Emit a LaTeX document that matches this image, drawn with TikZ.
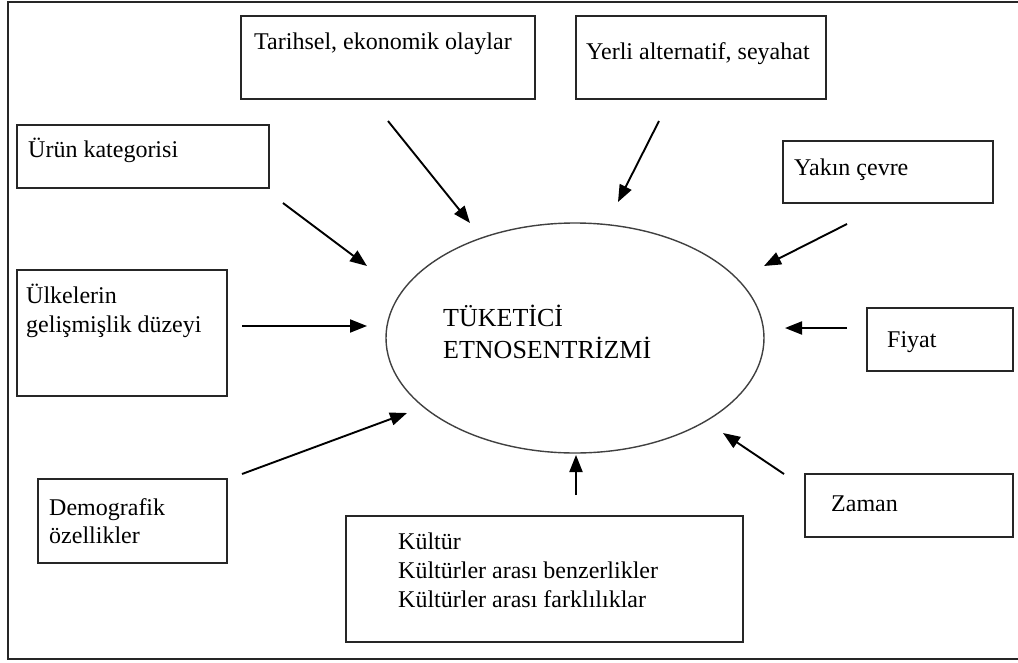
\documentclass[tikz,border=0pt]{standalone}
\usepackage{fontspec}
\setmainfont{Liberation Serif}
\usetikzlibrary{arrows.meta}
\tikzset{
  box/.style={draw=black!85, line width=2.2pt, inner sep=0pt, fill=none},
  txt/.style={anchor=base west, inner sep=0pt, font=\fontsize{24}{29}\selectfont, align=left},
  ctxt/.style={anchor=base west, inner sep=0pt, font=\fontsize{26}{32}\selectfont},
  arr/.style={line width=1.9pt, -{Triangle[length=17pt,width=13pt]}},
}
\begin{document}
\begin{tikzpicture}[x=1pt,y=-1pt]
\useasboundingbox (0,0) rectangle (1018,662);
% outer frame
\draw[line width=2.2pt, black!85] (1030,2) -- (8,2) -- (8,659) -- (1030,659);
% boxes
\node[box, minimum width=294pt, minimum height=83pt] (tar) at (388,57.5) {};
\node[box, minimum width=250pt, minimum height=83pt] (yer) at (701,57.5) {};
\node[box, minimum width=252pt, minimum height=63pt] (urun) at (143,156.5) {};
\node[box, minimum width=210pt, minimum height=126pt] (ulk) at (122,333) {};
\node[box, minimum width=189pt, minimum height=84pt] (dem) at (132.5,521) {};
\node[box, minimum width=397pt, minimum height=126pt] (kul) at (544.5,579) {};
\node[box, minimum width=210pt, minimum height=62pt] (yak) at (888,172) {};
\node[box, minimum width=146pt, minimum height=63pt] (fiy) at (940,339.5) {};
\node[box, minimum width=208pt, minimum height=63pt] (zam) at (909,505.5) {};
% ellipse
\draw[line width=1.4pt, black!75] (575,338) ellipse [x radius=189, y radius=115];
\coordinate (ell) at (575,338);
% texts
\node[txt] (tar-t) at (254,49) {Tarihsel, ekonomik olaylar};
\node[txt] (yer-t) at (586,59) {Yerli alternatif, seyahat};
\node[txt] (urun-t) at (28,157) {Ürün kategorisi};
\node[txt] (ulk-t1) at (26,303) {Ülkelerin};
\node[txt] (ulk-t2) at (26,332) {gelişmişlik düzeyi};
\node[txt] (dem-t1) at (49,515) {Demografik};
\node[txt] (dem-t2) at (49,543) {özellikler};
\node[txt] (kul-t1) at (398,549) {Kültür};
\node[txt] (kul-t2) at (398,578) {Kültürler arası benzerlikler};
\node[txt] (kul-t3) at (398,607) {Kültürler arası farklılıklar};
\node[txt] (yak-t) at (794,175) {Yakın çevre};
\node[txt] (fiy-t) at (887,347) {Fiyat};
\node[txt] (zam-t) at (831,511) {Zaman};
\node[ctxt] (c1) at (443,326) {TÜKETİCİ};
\node[ctxt] (c2) at (443,358) {ETNOSENTRİZMİ};
% arrow end points
\coordinate (a1s) at (388,121); \coordinate (a1e) at (470,223);
\coordinate (a2s) at (659,121); \coordinate (a2e) at (618,202);
\coordinate (a3s) at (283,203); \coordinate (a3e) at (367,266);
\coordinate (a4s) at (242,326); \coordinate (a4e) at (367,326);
\coordinate (a5s) at (242,474); \coordinate (a5e) at (407,413);
\coordinate (a6s) at (576,495); \coordinate (a6e) at (576,455);
\coordinate (a7s) at (784,474); \coordinate (a7e) at (723,433);
\coordinate (a8s) at (847,328); \coordinate (a8e) at (785,328);
\coordinate (a9s) at (847,224); \coordinate (a9e) at (764,266);
\draw[arr] (a1s) -- (a1e);
\draw[arr] (a2s) -- (a2e);
\draw[arr] (a3s) -- (a3e);
\draw[arr] (a4s) -- (a4e);
\draw[arr] (a5s) -- (a5e);
\draw[arr] (a6s) -- (a6e);
\draw[arr] (a7s) -- (a7e);
\draw[arr] (a8s) -- (a8e);
\draw[arr] (a9s) -- (a9e);
\end{tikzpicture}
\end{document}
